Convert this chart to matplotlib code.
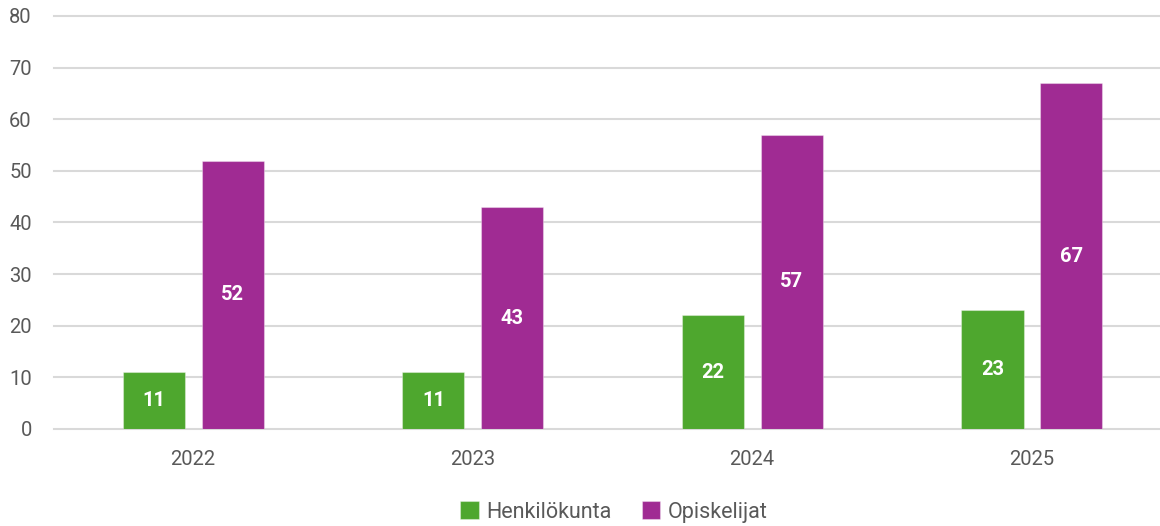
import matplotlib
matplotlib.use("Agg")
import matplotlib.pyplot as plt
import numpy as np

years = ["2022", "2023", "2024", "2025"]
henkilokunta = [11, 11, 22, 23]
opiskelijat = [52, 43, 57, 67]
series_names = ["Henkilökunta", "Opiskelijat"]
colors = ["#4EA72E", "#A02B93"]
yticks = [0, 10, 20, 30, 40, 50, 60, 70, 80]

plt.rcParams['font.family'] = ['Roboto', 'DejaVu Sans']

W, H = 1160, 526
fig = plt.figure(figsize=(W/100, H/100), dpi=100)
ax = fig.add_axes([54/W, 1-429/H, (W-54)/W, (429-16)/H])

x = np.arange(len(years))
width = 0.222
offs = [-0.1395, 0.143]
for vals, off, c, name in zip([henkilokunta, opiskelijat], offs, colors, series_names):
    bars = ax.bar(x + off, vals, width, color=c, label=name, zorder=3,
                  edgecolor=(1, 1, 1, 0.35), linewidth=0.8)
    for b, v in zip(bars, vals):
        ax.text(b.get_x() + b.get_width()/2, v/2, str(v), ha='center', va='center',
                color='white', fontsize=14.5, fontweight='bold', zorder=4)

ax.set_xlim(-0.497, (W-193)/279.5)
ax.set_ylim(0, 80)
ax.set_yticks(yticks)
ax.set_xticks(x)
ax.set_xticklabels(years)
ax.grid(axis='y', color='#D9D9D9', linewidth=1.5, zorder=0)
for ln in ax.get_ygridlines():
    ln.set_clip_on(False)
for s in ax.spines.values():
    s.set_visible(False)
ax.tick_params(axis='both', length=0, labelsize=14.5, labelcolor='#595959')
ax.tick_params(axis='y', pad=16)
ax.tick_params(axis='x', pad=15)

handles, labels = ax.get_legend_handles_labels()
leg = fig.legend(handles, labels, loc='center', bbox_to_anchor=(614/W, 1-512/H),
                 ncol=2, frameon=False, fontsize=15.5, handlelength=0.85, handleheight=0.85,
                 handletextpad=0.35, columnspacing=1.4)
for t in leg.get_texts():
    t.set_color('#595959')

fig.savefig("out.png", dpi=100)
